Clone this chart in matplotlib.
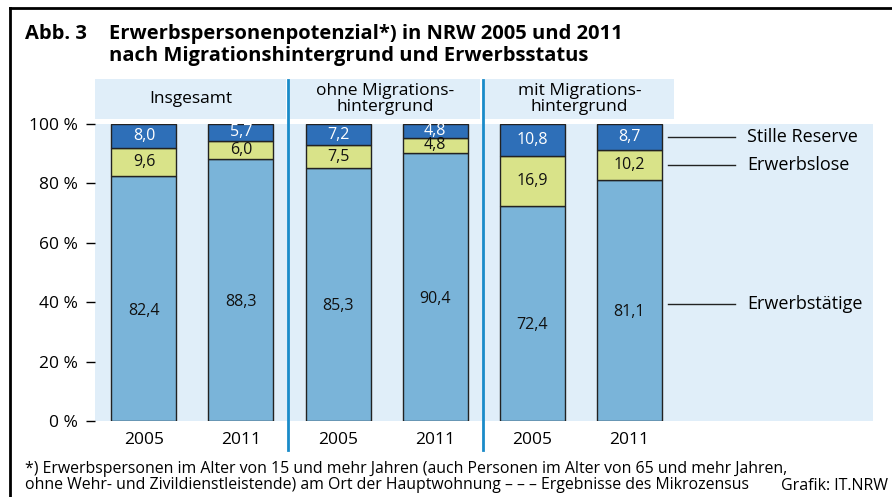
import matplotlib
matplotlib.use("Agg")
import matplotlib.pyplot as plt
from matplotlib.patches import Rectangle
from matplotlib.lines import Line2D

# ---- data ----
groups = ["Insgesamt", "ohne Migrations-\nhintergrund", "mit Migrations-\nhintergrund"]
years = ["2005", "2011", "2005", "2011", "2005", "2011"]
erwerbstaetige = [82.4, 88.3, 85.3, 90.4, 72.4, 81.1]
erwerbslose = [9.6, 6.0, 7.5, 4.8, 16.9, 10.2]
stille_reserve = [8.0, 5.7, 7.2, 4.8, 10.8, 8.7]
series_names = ["Erwerbstätige", "Erwerbslose", "Stille Reserve"]
yticks = [0, 20, 40, 60, 80, 100]
ytick_labels = ["0 %", "20 %", "40 %", "60 %", "80 %", "100 %"]
title = "Abb. 3"
title_line1 = "Erwerbspersonenpotenzial*) in NRW 2005 und 2011"
title_line2 = "nach Migrationshintergrund und Erwerbsstatus"
footnote = ("*) Erwerbspersonen im Alter von 15 und mehr Jahren (auch Personen im Alter von 65 und mehr Jahren,\n"
            "ohne Wehr- und Zivildienstleistende) am Ort der Hauptwohnung – – – Ergebnisse des Mikrozensus")
credit = "Grafik: IT.NRW"

# ---- style ----
FONT = "Open Sans"
plt.rcParams["font.family"] = [FONT, "DejaVu Sans"]
c_emp = "#7ab4d9"
c_unemp = "#d9e389"
c_res = "#2e6fb8"
c_bg = "#e0eef9"
c_div = "#1a8bc9"
edge = "#222222"

W, H = 892, 497
fig = plt.figure(figsize=(W / 100, H / 100), dpi=100)


def fx(px):
    return px / W


def fy(py):
    return 1 - py / H


ax = fig.add_axes([fx(95), fy(421), fx(873) - fx(95), fy(124) - fy(421)])
ax.set_facecolor(c_bg)
ax.set_xlim(-0.505, 7.515)
ax.set_ylim(0, 100)
for s in ax.spines.values():
    s.set_visible(False)

x = list(range(len(years)))
bw = 0.67
ax.bar(x, erwerbstaetige, width=bw, color=c_emp, edgecolor=edge, linewidth=1, zorder=3)
b2 = [a for a in erwerbstaetige]
ax.bar(x, erwerbslose, width=bw, bottom=b2, color=c_unemp, edgecolor=edge, linewidth=1, zorder=3)
b3 = [a + b for a, b in zip(erwerbstaetige, erwerbslose)]
ax.bar(x, stille_reserve, width=bw, bottom=b3, color=c_res, edgecolor=edge, linewidth=1, zorder=3)


def fmt(v):
    return f"{v:.1f}".replace(".", ",")


for i in x:
    ax.text(i, erwerbstaetige[i] / 2 - 4, fmt(erwerbstaetige[i]), ha="center", va="center",
            fontsize=11.5, color="#111111", zorder=4)
    ax.text(i, b2[i] + erwerbslose[i] / 2, fmt(erwerbslose[i]), ha="center", va="center",
            fontsize=11.5, color="#111111", zorder=4)
    ax.text(i, b3[i] + stille_reserve[i] / 2, fmt(stille_reserve[i]), ha="center", va="center",
            fontsize=11.5, color="white", zorder=4)

# ticks
ax.set_yticks(yticks, ytick_labels, fontsize=12.5)
ax.tick_params(axis="y", length=6.5, width=1, pad=5.5, color="black")
ax.set_xticks(x, years, fontsize=12.5)
ax.tick_params(axis="x", length=0, pad=8)

# header boxes
hdr = [(-0.505, 1.464), (1.505, 3.464), (3.52, 5.46)]
for (x0, x1), g in zip(hdr, groups):
    ax.add_patch(Rectangle((x0, 101.7), x1 - x0, 13.5, facecolor=c_bg, edgecolor="none",
                           clip_on=False, zorder=1))
    ax.text((x0 + x1) / 2, 108.3, g, ha="center", va="center", fontsize=12.5,
            linespacing=1.0, clip_on=False)

# dividers
for xd in [1.485, 3.49]:
    ax.plot([xd, xd], [114.8, -9.8], color=c_div, lw=2, clip_on=False, zorder=5)

# legend-like labels on right
last = len(x) - 1
mids = [erwerbstaetige[last] / 2 - 1, b2[last] + erwerbslose[last] / 2, b3[last] + stille_reserve[last] / 2]
for name, m in zip(series_names, mids):
    ax.plot([5.40, 6.09], [m, m], color="#222222", lw=1, zorder=4)
    ax.text(6.216, m, name, ha="left", va="center", fontsize=13, zorder=4)

# title
fig.text(fx(25), fy(34), title, ha="left", va="center", fontsize=14.5, fontweight="bold")
fig.text(fx(109), fy(34), title_line1, ha="left", va="center", fontsize=14.5, fontweight="bold")
fig.text(fx(109), fy(56), title_line2, ha="left", va="center", fontsize=14.5, fontweight="bold")

# footnote
fig.text(fx(25), fy(477), footnote, ha="left", va="center", fontsize=11.4, linespacing=0.95)
fig.text(fx(888), fy(486), credit, ha="right", va="center", fontsize=11.5)

# frame
fig.add_artist(Line2D([fx(10), fx(10)], [fy(8), 0], color="black", lw=2, transform=fig.transFigure))
fig.add_artist(Line2D([fx(10), 1], [fy(8), fy(8)], color="black", lw=2, transform=fig.transFigure))

fig.savefig("out.png", dpi=100)
